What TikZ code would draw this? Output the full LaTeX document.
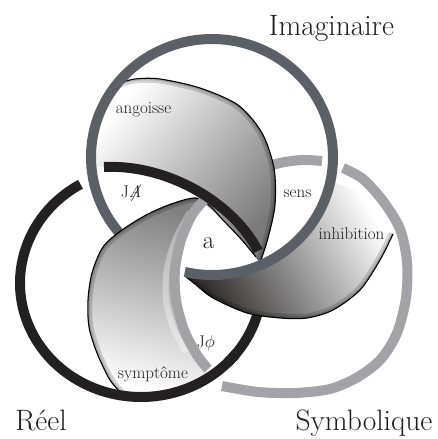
\documentclass[tikz,border=0pt]{standalone}
\definecolor{imag}{RGB}{90,96,102}
\definecolor{reel}{RGB}{34,32,32}
\definecolor{symb}{RGB}{163,163,167}
\definecolor{inhib}{RGB}{52,47,47}
\begin{document}
\begin{tikzpicture}[x=1pt,y=-1pt,
  ring/.style={line width=10pt},
  edge/.style={line width=1.1pt, black},
  rim/.style={black, opacity=.16},
  lbl/.style={text=black!88, inner sep=0pt, anchor=base},
  big/.style={lbl, font=\fontsize{29.5}{32}\selectfont},
  small/.style={lbl, font=\fontsize{17}{19}\selectfont}]
\path[use as bounding box, fill=white] (0,0) rectangle (438,439);

\def\angpath{plot[smooth] coordinates {(116,84) (135,79) (160,79) (200,88) (238,105) (262,133) (274,168) (275,205) (268,238) (260,263)} -- plot[smooth] coordinates {(260,263) (241,239) (222,219) (205,204) (194,192)} -- plot[smooth] coordinates {(190,187) (168,174) (135,166) (104,167) (93,167)} -- plot[smooth] coordinates {(93,167) (94,130) (105,102) (116,84)} -- cycle}
\def\sympath{plot[smooth] coordinates {(124,396) (110,380) (97,353) (89,327) (88,300) (92,273) (103,247) (122,230) (148,214) (174,203) (196,198) (205,199)} -- plot[smooth] coordinates {(205,199) (192,215) (181,240) (175,270) (176,300) (184,330) (197,355) (208,369)} -- plot[smooth] coordinates {(201.5,381.7) (182.4,390.1) (162,395.3) (141,397) (124,396)} -- cycle}
\def\inhpath{plot[smooth] coordinates {(186,273) (212,275) (243,271) (272.5,259) (297.6,240.4) (316.8,216) (325.7,197.4) (330.4,181.5)} -- plot[smooth] coordinates {(330.4,181.5) (352,189) (373,205) (387,220) (393,234)} -- plot[smooth] coordinates {(393,234) (380,260) (360,290) (333,310) (307,318) (280,318) (247,313) (213,298) (195,284) (186,277)} -- cycle}
\def\eang{plot[smooth] coordinates {(116,84) (135,79) (160,79) (200,88) (238,105) (262,133) (274,168) (275,205) (268,238) (260,263)}}
\def\einh{plot[smooth] coordinates {(393,234) (380,260) (360,290) (333,310) (307,318) (280,318) (247,313) (213,298) (195,284) (186,277)}}
\def\esym{plot[smooth] coordinates {(124,396) (110,380) (97,353) (89,327) (88,300) (92,273) (103,247) (122,230) (148,214) (174,203) (196,198) (210,206) (222,219) (241,239) (256,257)}}

% Symbolique (main arcs)
\draw[ring, symb] plot[smooth] coordinates {(222,386) (258,392) (295,393) (330,389) (358,377) (381,359) (397,333) (406,298) (407,262) (400,229) (383,201) (363,179) (343,168)};
\draw[ring, symb] plot[smooth] coordinates {(322,161) (302,160) (280,163) (258,170) (240,182)};

% Reel, hidden part under inhibition
\draw[ring, reel] ([shift={(44:121 and 114)}]141,283) arc[start angle=44, end angle=-5, x radius=121, y radius=114];

% angoisse
\shade[top color=white, bottom color=black!52, shading angle=50] \angpath;
\begin{scope}
  \clip \angpath;
  \draw[rim, line width=9pt] \eang;
  \draw[rim, line width=4pt] \eang;
\end{scope}
% inhibition
\shade[top color=white, bottom color=inhib, middle color=black!40, shading angle=-60] \inhpath;
\begin{scope}
  \clip \inhpath;
  \draw[rim, line width=9pt] \einh;
  \draw[rim, line width=4pt] \einh;
\end{scope}
\draw[edge] \eang;
\draw[edge] \einh;

% Imaginaire
\draw[ring, imag] ([shift={(130:121 and 118)}]212,157) arc[start angle=130, end angle=463, x radius=121, y radius=118];

% symptome
\shade[top color=black!50, bottom color=white, shading angle=-15] \sympath;
\begin{scope}
  \clip \sympath;
  \draw[rim, line width=9pt] \esym;
  \draw[rim, line width=4pt] \esym;
  \draw[white, opacity=.35, line width=6pt] plot[smooth] coordinates {(190,212) (176,238) (167,268) (166,300) (173,328) (186,352)};
\end{scope}
\draw[edge] \esym;

% Symbolique (left arc over symptome)
\draw[ring, symb] plot[smooth] coordinates {(205,199) (192,215) (181,240) (175,270) (176,300) (184,330) (197,355) (208,369)};

% Reel
\draw[ring, reel] (104,167) .. controls (170,164) and (235,205) .. (258,251);
\draw[ring, reel] ([shift={(240:121 and 114)}]141,283) arc[start angle=240, end angle=38, x radius=121, y radius=114];

% labels
\node[big] (imagl) at (331.5,35) {Imaginaire};
\node[big] (reell) at (41,430) {Réel};
\node[big] (symbl) at (364,430) {Symbolique};
\node[small] (ang) at (143.5,113) {angoisse};
\node[small] (ja) at (131,197) {J\ooalign{\itshape A\cr\hidewidth\itshape /\hidewidth\cr}};
\node[small] (sens) at (297.5,197) {sens};
\node[lbl, font=\fontsize{25}{27}\selectfont] (a) at (208.5,248) {a};
\node[small] (inh) at (351.5,239) {inhibition};
\node[small] (jphi) at (206,347) {J$\phi$};
\node[small] (sym) at (153,378) {symptôme};
\end{tikzpicture}
\end{document}
